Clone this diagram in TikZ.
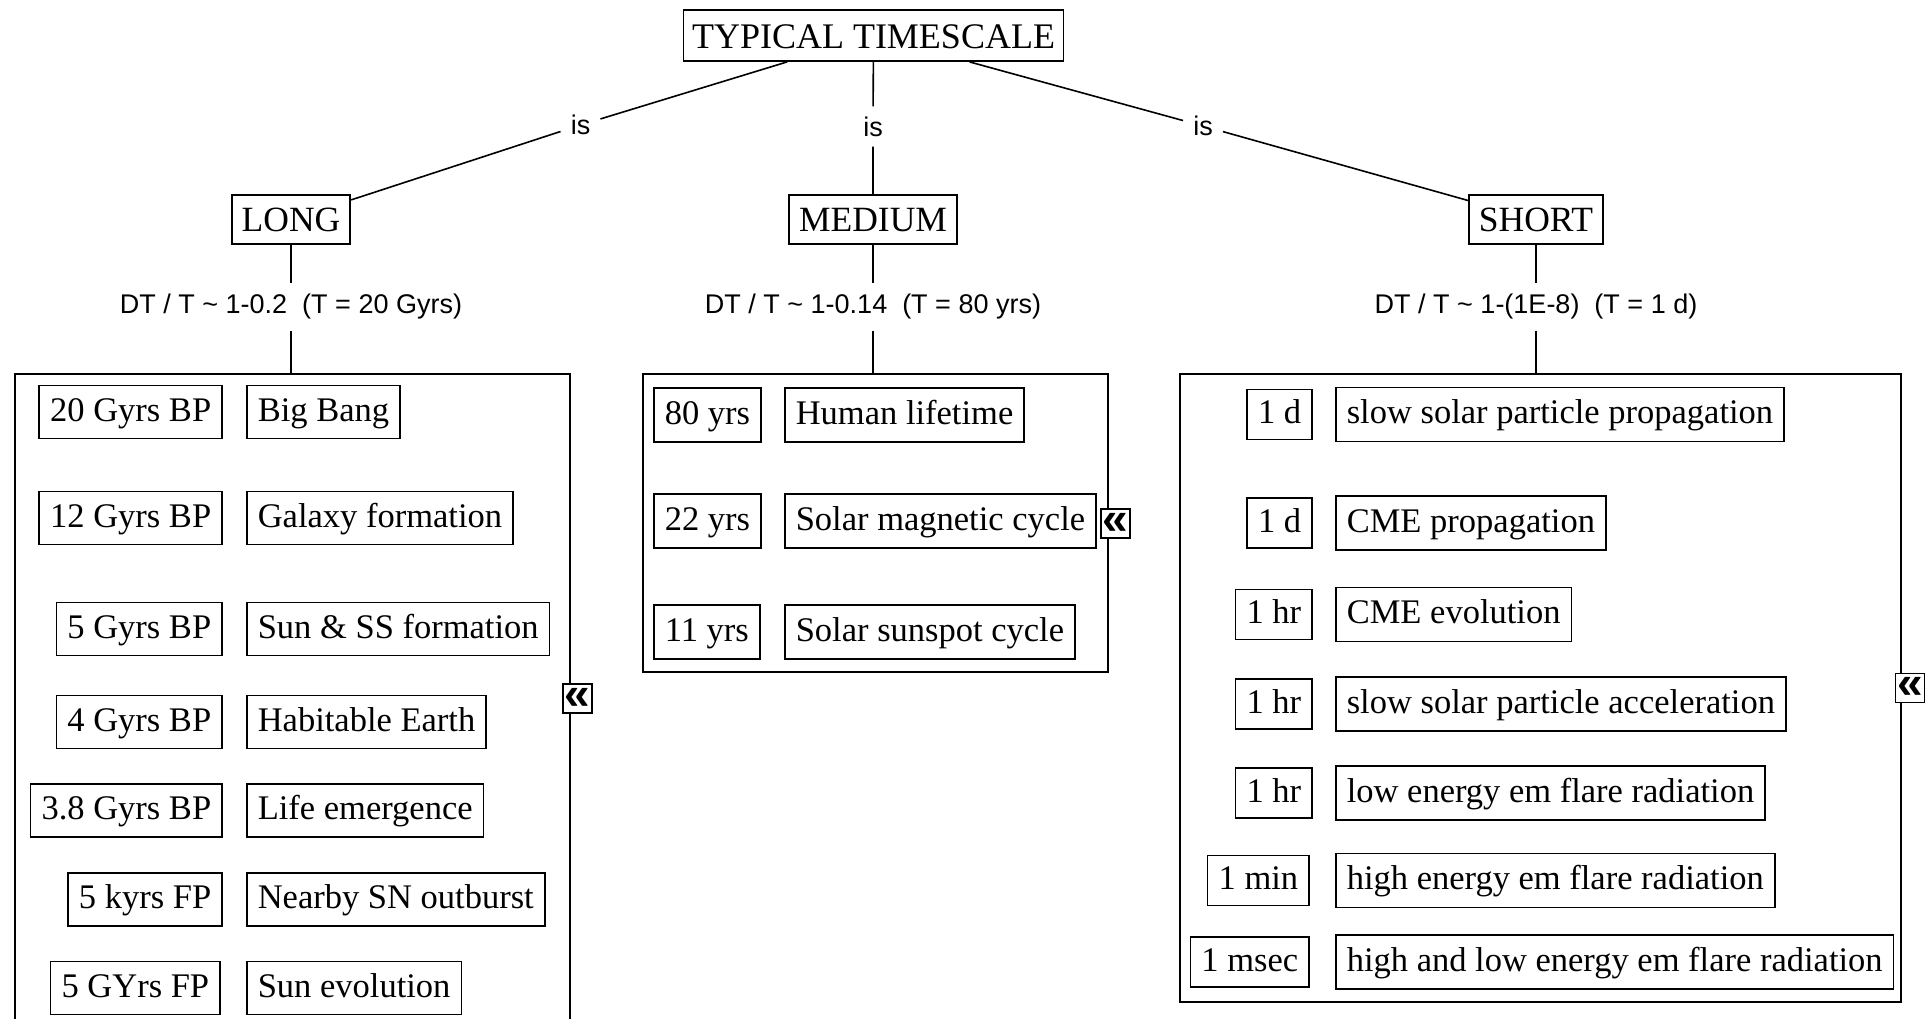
\documentclass[tikz,border=0pt]{standalone}
\usepackage{fontspec}
\usepackage{graphicx}
\setmainfont{Liberation Serif}
\newfontfamily\labelfont{Liberation Sans}
\begin{document}
\begin{tikzpicture}[x=1pt,y=-1pt,
  conn/.style={draw=black, line width=1.6pt},
  concept/.style={draw=black, line width=1.8pt, fill=white,
    font=\fontsize{35.5}{40}\selectfont, inner xsep=10pt, inner ysep=0pt,
    text height=24pt, text depth=0pt, minimum height=49pt},
  islabel/.style={font=\labelfont\fontsize{27}{30}\selectfont, inner sep=10pt},
  dtlabel/.style={font=\labelfont\fontsize{27}{30}\selectfont, inner xsep=4pt, inner ysep=11pt},
  frame/.style={draw=black, line width=1.8pt, inner sep=0pt},
  item/.style={draw=black, line width=1.6pt, fill=white,
    font=\fontsize{34.5}{40}\selectfont, inner xsep=11pt, inner ysep=0pt,
    text height=23pt, text depth=5pt, minimum height=53pt},
  marker/.style={draw=black, line width=1.6pt, fill=white, inner sep=0pt,
    minimum size=29pt, font=\labelfont\bfseries\fontsize{46}{46}\selectfont}
]
\useasboundingbox (0,0) rectangle (1925,1018);

% top concept and the three classes
\node[concept, font=\fontsize{36}{40}\selectfont, text height=25pt, minimum height=51pt,
      inner xsep=8.5pt] (title) at (873.5,35.5) {TYPICAL TIMESCALE};
\node[concept] (long)   at (291,219.5)  {LONG};
\node[concept] (medium) at (873,219.5)  {MEDIUM};
\node[concept] (short)  at (1536,219.5) {SHORT};

% linking phrases
\node[islabel] (isL) at (580.5,125) {is};
\node[islabel] (isM) at (873,126.5) {is};
\node[islabel] (isS) at (1203,126)  {is};

\node[dtlabel] (dtL) at (291,307)  {DT / T \textasciitilde{} 1-0.2\ \ (T = 20 Gyrs)};
\node[dtlabel] (dtM) at (873,307)  {DT / T \textasciitilde{} 1-0.14\ \ (T = 80 yrs)};
\node[dtlabel] (dtS) at (1536,307) {DT / T \textasciitilde{} 1-(1E-8)\ \ (T = 1 d)};

% grouping frames
\node[frame, anchor=north west, minimum width=555pt, minimum height=650pt] (boxL) at (14,373) {};
\node[frame, anchor=north west, minimum width=465pt, minimum height=298pt] (boxM) at (642,373) {};
\node[frame, anchor=north west, minimum width=721pt, minimum height=628pt] (boxS) at (1179,373) {};

% connectors
\draw[conn] (title) -- (isL) -- (long);
\draw[conn] (title) -- (isM) -- (medium);
\draw[conn] (title) -- (isS) -- (short);
\draw[conn] (long)   -- (dtL) -- (dtL |- boxL.north);
\draw[conn] (medium) -- (dtM) -- (dtM |- boxM.north);
\draw[conn] (short)  -- (dtS) -- (dtS |- boxS.north);

% long timescales
\node[item, anchor=east] (l1a) at (223,412)   {20 Gyrs BP};
\node[item, anchor=west] (l1b) at (246,412)   {Big Bang};
\node[item, anchor=east] (l2a) at (223,518)   {12 Gyrs BP};
\node[item, anchor=west] (l2b) at (246,518)   {Galaxy formation};
\node[item, anchor=east] (l3a) at (223,629)   {5 Gyrs BP};
\node[item, anchor=west] (l3b) at (246,629)   {Sun \& SS formation};
\node[item, anchor=east] (l4a) at (223,722)   {4 Gyrs BP};
\node[item, anchor=west] (l4b) at (246,722)   {Habitable Earth};
\node[item, anchor=east] (l5a) at (223,810.5) {3.8 Gyrs BP};
\node[item, anchor=west] (l5b) at (246,810.5) {Life emergence};
\node[item, anchor=east] (l6a) at (223,899.5) {5 kyrs FP};
\node[item, anchor=west] (l6b) at (246,899.5) {Nearby SN outburst};
\node[item, anchor=east] (l7a) at (221,988)   {5 GYrs FP};
\node[item, anchor=west] (l7b) at (246,988)   {Sun evolution};

% medium timescales
\node[item, anchor=west, minimum height=54pt] (m1a) at (653,415) {80 yrs};
\node[item, anchor=west, minimum height=54pt] (m1b) at (784,415) {Human lifetime};
\node[item, anchor=west, minimum height=54pt] (m2a) at (653,521) {22 yrs};
\node[item, anchor=west, minimum height=54pt] (m2b) at (784,521) {Solar magnetic cycle};
\node[item, anchor=west, minimum height=54pt] (m3a) at (653,632) {11 yrs};
\node[item, anchor=west, minimum height=54pt] (m3b) at (784,632) {Solar sunspot cycle};

% short timescales
\node[item, anchor=east, minimum height=50pt] (s1a) at (1313,414.5) {1 d};
\node[item, anchor=west, minimum height=54pt] (s1b) at (1335,414.5) {slow solar particle propagation};
\node[item, anchor=east, minimum height=50pt] (s2a) at (1313,523)   {1 d};
\node[item, anchor=west, minimum height=54pt] (s2b) at (1335,523)   {CME propagation};
\node[item, anchor=east, minimum height=50pt] (s3a) at (1313,614.5) {1 hr};
\node[item, anchor=west, minimum height=54pt] (s3b) at (1335,614.5) {CME evolution};
\node[item, anchor=east, minimum height=50pt] (s4a) at (1313,704)   {1 hr};
\node[item, anchor=west, minimum height=54pt] (s4b) at (1335,704)   {slow solar particle acceleration};
\node[item, anchor=east, minimum height=50pt] (s5a) at (1313,793)   {1 hr};
\node[item, anchor=west, minimum height=54pt] (s5b) at (1335,793)   {low energy em flare radiation};
\node[item, anchor=east, minimum height=50pt] (s6a) at (1310,880.5) {1 min};
\node[item, anchor=west, minimum height=54pt] (s6b) at (1335,880.5) {high energy em flare radiation};
\node[item, anchor=east, minimum height=50pt] (s7a) at (1310,962)   {1 msec};
\node[item, anchor=west, minimum height=54pt] (s7b) at (1335,962)   {high and low energy em flare radiation};

% collapse handles on the frames
\node[marker] (mkL) at (577.5,698.5) {\raisebox{-1pt}{«}};
\node[marker] (mkM) at (1115.5,523.5) {\raisebox{-1pt}{«}};
\node[marker] (mkS) at (1910,688) {\raisebox{-1pt}{«}};
\end{tikzpicture}
\end{document}
